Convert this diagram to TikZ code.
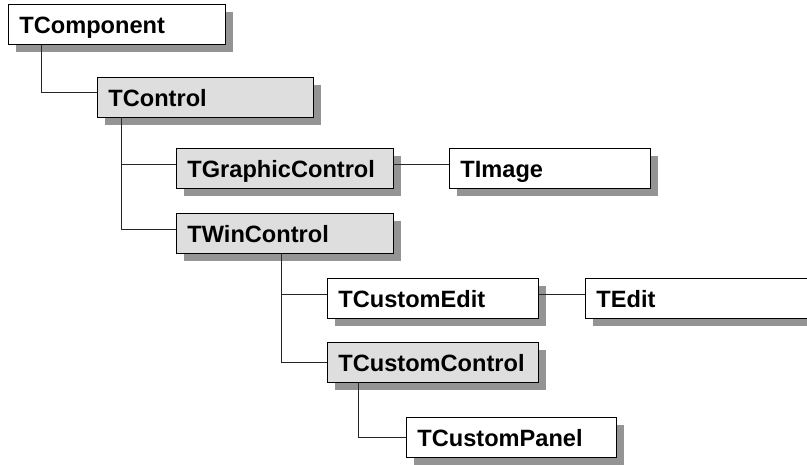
\documentclass[tikz,border=0pt]{standalone}
\usepackage{fontspec}
\setmainfont{Liberation Sans}
\usetikzlibrary{shadows}
\tikzset{cls/.style = {draw, line width=0.9pt, fill=white, anchor=north west,
                       minimum height=40pt, inner ysep=0pt, inner xsep=11pt,
                       text width=#1, text height=20pt, text depth=1.5pt,
                       font=\fontsize{23.6}{27}\selectfont\bfseries,
                       drop shadow={shadow xshift=8pt, shadow yshift=-8pt,
                                    fill=black!42, opacity=1}}}
\tikzset{abstract/.style = {cls=#1, fill=black!13}}
\tikzset{link/.style = {draw=black!85, line width=0.8pt}}

\begin{document}
\begin{tikzpicture}[x=1pt, y=-1pt]
      \useasboundingbox (0, 0) rectangle (807, 465);

      \node [cls=195pt] (comp) at (8, 4) {TComponent};
      \node [abstract=194pt] (ctrl) at (97, 77) {TControl};
      \node [abstract=195pt] (gctrl) at (176, 148) {TGraphicControl};
      \node [cls=179pt] (img) at (449, 148) {TImage};
      \node [abstract=195pt] (wctrl) at (176, 213) {TWinControl};
      \node [cls=189pt] (cedit) at (327, 278) {TCustomEdit};
      \node [cls=210pt] (edit) at (585, 278) {TEdit};
      \node [abstract=189pt] (cctrl) at (327, 342) {TCustomControl};
      \node [cls=188pt] (cpanel) at (406, 417) {TCustomPanel};

      \draw [link] ([xshift=33pt]comp.south west) |- ([yshift=5pt]ctrl.west);
      \draw [link] ([xshift=24pt]ctrl.south west) |- ([yshift=4pt]gctrl.west);
      \draw [link] ([xshift=24pt]ctrl.south west) |- ([yshift=4pt]wctrl.west);
      \draw [link] ([yshift=4pt]gctrl.east) -- ([yshift=4pt]img.west);
      \draw [link] ([xshift=105pt]wctrl.south west) |- ([yshift=4pt]cedit.west);
      \draw [link] ([xshift=105pt]wctrl.south west) |- (cctrl.west);
      \draw [link] ([yshift=4pt]cedit.east) -- ([yshift=4pt]edit.west);
      \draw [link] ([xshift=31pt]cctrl.south west) |- (cpanel.west);
    \end{tikzpicture}
\end{document}
